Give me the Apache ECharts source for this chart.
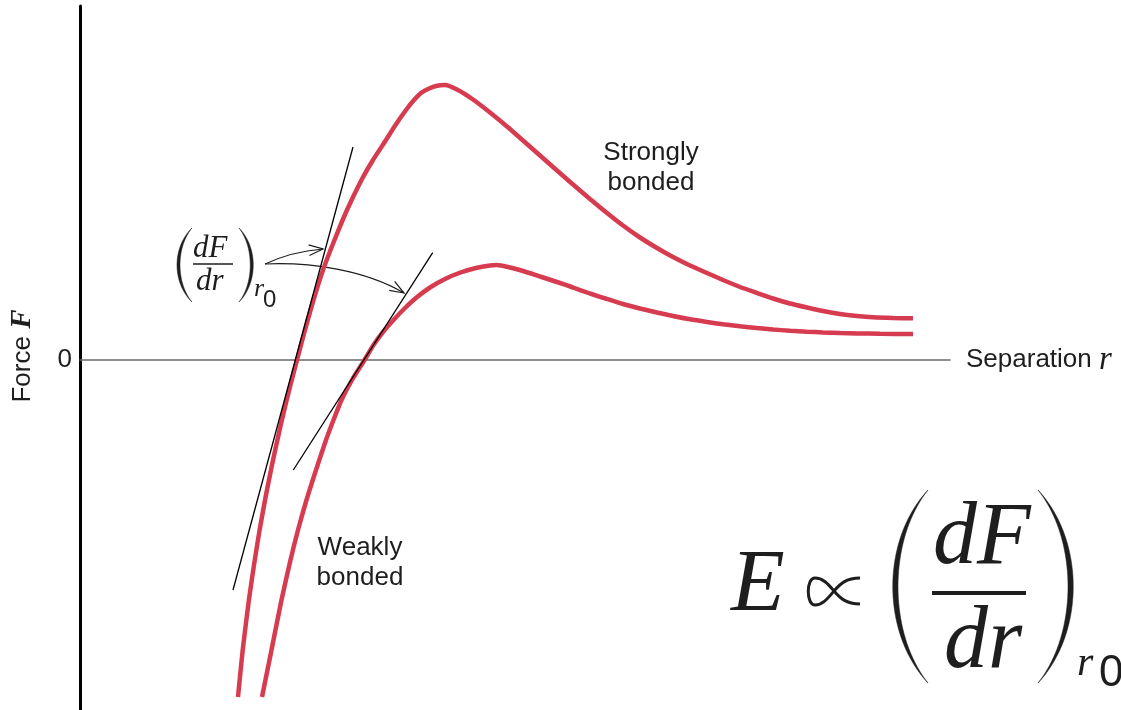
<!DOCTYPE html>
<html>
<head>
<meta charset="utf-8">
<title>Force versus separation</title>
<script src="https://cdn.jsdelivr.net/npm/echarts@6/dist/echarts.min.js"></script>
<style>
  html, body { margin: 0; padding: 0; background: #ffffff; }
  #chart { width: 1121px; height: 710px; }
</style>
</head>
<body>
<div id="chart"></div>
<script>
// Interatomic force F against separation r (arbitrary units)
const strongCurve = [
  [1.580,-3.37],[1.627,-2.90],[1.689,-2.40],[1.743,-2.03],[1.796,-1.70],[1.856,-1.37],
  [1.924,-1.03],[1.996,-0.70],[2.074,-0.37],[2.170,0.00],[2.250,0.30],[2.335,0.60],
  [2.430,0.90],[2.545,1.20],[2.670,1.50],[2.815,1.80],[2.930,2.00],[3.060,2.20],
  [3.155,2.35],[3.260,2.50],[3.340,2.60],[3.410,2.67],[3.480,2.71],[3.560,2.74],
  [3.650,2.75],[3.770,2.705],[3.930,2.605],[4.100,2.475],[4.270,2.335],[4.430,2.195],
  [4.600,2.045],[4.770,1.895],[4.930,1.755],[5.100,1.610],[5.270,1.470],[5.430,1.345],
  [5.600,1.225],[5.770,1.120],[5.930,1.030],[6.100,0.945],[6.270,0.870],[6.430,0.800],
  [6.600,0.730],[6.770,0.670],[6.930,0.615],[7.100,0.565],[7.270,0.525],[7.430,0.490],
  [7.600,0.460],[7.770,0.440],[7.930,0.427],[8.130,0.420],[8.330,0.417]
];
const weakCurve = [
  [1.820,-3.37],[1.915,-2.90],[2.015,-2.40],[2.105,-2.00],[2.180,-1.70],[2.265,-1.40],
  [2.360,-1.10],[2.460,-0.80],[2.535,-0.60],[2.615,-0.40],[2.720,-0.20],[2.845,0.00],
  [2.935,0.150],[3.030,0.280],[3.135,0.400],[3.245,0.515],[3.365,0.625],[3.500,0.725],
  [3.650,0.810],[3.805,0.875],[3.960,0.920],[4.100,0.945],[4.170,0.950],[4.300,0.925],
  [4.430,0.890],[4.600,0.835],[4.770,0.780],[4.930,0.725],[5.100,0.665],[5.270,0.610],
  [5.430,0.560],[5.600,0.515],[5.770,0.475],[5.930,0.440],[6.100,0.407],[6.270,0.380],
  [6.430,0.357],[6.600,0.337],[6.770,0.320],[6.930,0.305],[7.100,0.293],[7.270,0.283],
  [7.430,0.276],[7.600,0.270],[7.770,0.266],[8.000,0.262],[8.330,0.260]
];
// Tangents at the equilibrium separation r0 (where F = 0)
const strongTangent = [[1.53,-2.30],[2.73,2.13]];
const weakTangent = [[2.133,-1.10],[3.527,1.073]];
const yTickValues = [0];

const RED = '#d73b4f';
const INK = '#1e1e1e';
const SANS = '"Liberation Sans", Arial, sans-serif';
const SERIF = '"Liberation Serif", "Times New Roman", serif';

const chart = echarts.init(document.getElementById('chart'), null, { renderer: 'canvas' });

function italic(text, size, x, y) {
  return {
    type: 'text', x: x, y: y,
    style: { text: text, fontFamily: SERIF, fontStyle: 'italic', fontSize: size,
             fill: INK, align: 'left', verticalAlign: 'middle' }
  };
}
function sans(text, size, x, y, align) {
  return {
    type: 'text', x: x, y: y,
    style: { text: text, fontFamily: SANS, fontSize: size, fill: INK,
             align: align || 'left', verticalAlign: 'middle', lineHeight: 30 }
  };
}
function cubicPoints(p0, p1, p2, p3, n) {
  const pts = [];
  for (let i = 0; i <= n; i++) {
    const t = i / n, u = 1 - t;
    pts.push([
      u*u*u*p0[0] + 3*u*u*t*p1[0] + 3*u*t*t*p2[0] + t*t*t*p3[0],
      u*u*u*p0[1] + 3*u*u*t*p1[1] + 3*u*t*t*p2[1] + t*t*t*p3[1]
    ]);
  }
  return pts;
}
// Round bracket drawn as a filled crescent between two cubic arcs
function paren(xe, top, bottom, ctlOuter, ctlInner) {
  const h = bottom - top;
  const a = top + h * 0.26, b = top + h * 0.74;
  const outer = cubicPoints([xe, top], [ctlOuter, a], [ctlOuter, b], [xe, bottom], 40);
  const inner = cubicPoints([xe, bottom], [ctlInner, b], [ctlInner, a], [xe, top], 40);
  return {
    type: 'polygon',
    shape: { points: outer.concat(inner) },
    style: { fill: INK, stroke: INK, lineWidth: 0.5 }
  };
}
function bar(x1, x2, y, w) {
  return { type: 'line', shape: { x1: x1, y1: y, x2: x2, y2: y },
           style: { stroke: INK, lineWidth: w } };
}
function curve(p0, c1, c2, p3, w) {
  return { type: 'bezierCurve',
    shape: { x1: p0[0], y1: p0[1], cpx1: c1[0], cpy1: c1[1],
             cpx2: c2[0], cpy2: c2[1], x2: p3[0], y2: p3[1] },
    style: { stroke: INK, lineWidth: w, fill: null } };
}
// Curved arrow with an open head at its end point
function arrow(p0, c1, c2, tip) {
  const dx = tip[0] - c2[0], dy = tip[1] - c2[1];
  const len = Math.hypot(dx, dy);
  const ux = dx / len, uy = dy / len;
  const L = 15, spread = 0.36;
  const cs = Math.cos(spread), sn = Math.sin(spread);
  const b1 = [tip[0] - L * (ux * cs - uy * sn), tip[1] - L * (uy * cs + ux * sn)];
  const b2 = [tip[0] - L * (ux * cs + uy * sn), tip[1] - L * (uy * cs - ux * sn)];
  return [
    curve(p0, c1, c2, tip, 1.2),
    { type: 'polyline', shape: { points: [b1, tip, b2] },
      style: { stroke: INK, lineWidth: 1.2, fill: null } }
  ];
}

// the "proportional to" sign
const proportional = [
  curve([860, 578], [846, 578], [840, 584], [834, 591], 3),
  curve([834, 591], [828, 598], [823, 605], [815, 605], 3),
  curve([815, 605], [806, 605], [806, 578], [815, 578], 3),
  curve([815, 578], [823, 578], [828, 584], [834, 591], 3),
  curve([834, 591], [840, 598], [846, 604], [860, 604], 3)
];

const graphics = [
  // vertical axis title
  { type: 'text', x: 23, y: 356, rotation: Math.PI / 2,
    style: { text: '{a|Force }{b|F}', align: 'center', verticalAlign: 'middle',
      rich: { a: { fontFamily: SANS, fontSize: 26, fill: INK },
              b: { fontFamily: SERIF, fontStyle: 'italic', fontWeight: 'bold', fontSize: 29, fill: INK } } } },
  sans('Strongly\nbonded', 26, 651, 168, 'center'),
  sans('Weakly\nbonded', 26, 360, 563, 'center'),
  // (dF/dr) at r0, small label
  paren(192, 228, 302, 172, 176),
  paren(239, 228, 302, 258, 254),
  italic('dF', 31, 193, 249),
  bar(193, 233, 264, 1.5),
  italic('dr', 31, 196, 282),
  italic('r', 26, 254, 289),
  sans('0', 24, 263, 300),
  ...arrow([265, 264], [282, 256], [300, 251], [323, 249]),
  ...arrow([265, 264], [310, 262], [365, 270], [404, 293]),
  // E proportional to (dF/dr) at r0
  italic('E', 88, 731, 587),
  ...proportional,
  paren(928, 490, 683, 881, 888),
  paren(1038, 490, 683, 1085, 1078),
  italic('dF', 88, 933, 540),
  bar(932, 1026, 593, 4),
  italic('dr', 88, 944, 644),
  italic('r', 42, 1077, 664),
  sans('0', 44, 1099, 674)
];

chart.setOption({
  animation: false,
  backgroundColor: '#ffffff',
  grid: { left: 80, right: 171, top: 6, bottom: 0, containLabel: false },
  xAxis: {
    type: 'value', min: 0, max: 8.7,
    axisLine: { onZero: true, lineStyle: { color: '#6a6a6a', width: 1.6 } },
    axisTick: { show: false }, axisLabel: { show: false }, splitLine: { show: false },
    name: '{a|Separation }{b|r}', nameLocation: 'end', nameGap: 16,
    nameTextStyle: { rich: {
      a: { fontFamily: SANS, fontSize: 26, color: INK },
      b: { fontFamily: SERIF, fontStyle: 'italic', fontSize: 33, color: INK } } }
  },
  yAxis: {
    type: 'value', min: -3.5, max: 3.54,
    axisLine: { show: true, onZero: false, lineStyle: { color: '#000000', width: 3 } },
    axisTick: { show: false },
    axisLabel: { show: true, customValues: yTickValues, margin: 8,
                 fontFamily: SANS, fontSize: 26, color: INK },
    splitLine: { show: false }
  },
  series: [
    { name: 'Strongly bonded', type: 'line', data: strongCurve, smooth: 0.2,
      showSymbol: false, lineStyle: { color: RED, width: 4.5 }, z: 3 },
    { name: 'Weakly bonded', type: 'line', data: weakCurve, smooth: 0.2,
      showSymbol: false, lineStyle: { color: RED, width: 4.5 }, z: 3 },
    { name: 'Tangent (strong)', type: 'line', data: strongTangent,
      showSymbol: false, lineStyle: { color: '#000000', width: 1.3 }, z: 4 },
    { name: 'Tangent (weak)', type: 'line', data: weakTangent,
      showSymbol: false, lineStyle: { color: '#000000', width: 1.3 }, z: 4 }
  ],
  graphic: graphics
});
</script>
</body>
</html>
